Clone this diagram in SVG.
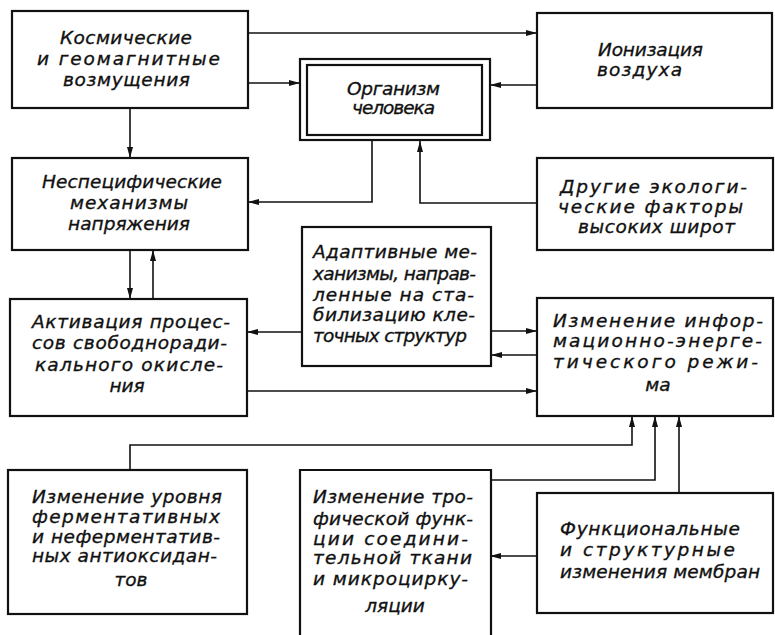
<svg xmlns="http://www.w3.org/2000/svg" width="775" height="635" viewBox="0 0 775 635">
<style>
.box{fill:#fff;stroke:#111;stroke-width:2.2}
.ln{fill:none;stroke:#111;stroke-width:1.6}
.arr{marker-end:url(#ah)}
text{font-family:"DejaVu Sans","Liberation Sans",sans-serif;font-style:oblique;font-size:18.5px;fill:#111;stroke:#111;stroke-width:0.35}
.c{text-anchor:middle}
</style>
<defs>
<marker id="ah" markerUnits="userSpaceOnUse" markerWidth="12" markerHeight="8" refX="11" refY="3.5" orient="auto">
<path d="M0,0.5 L11,3.5 L0,6.5 z" fill="#111"/>
</marker>
</defs>
<rect width="775" height="635" fill="#fff"/>
<g id="connectors">
<path class="ln arr" d="M248,33 H537"/>
<path class="ln arr" d="M248,83 H300"/>
<path class="ln arr" d="M537,85 H490"/>
<path class="ln arr" d="M130,108 V158"/>
<path class="ln arr" d="M420,136 V126 H372 V202 H248"/>
<path class="ln arr" d="M537,203 H420 V141"/>
<path class="ln arr" d="M130,250 V299"/>
<path class="ln arr" d="M153,299 V250"/>
<path class="ln arr" d="M302,332 H247"/>
<path class="ln arr" d="M491,331 H537"/>
<path class="ln arr" d="M537,355 H491"/>
<path class="ln arr" d="M247,391 H537"/>
<path class="ln arr" d="M130,470 V445 H632 V416"/>
<path class="ln arr" d="M490,480 H655 V416"/>
<path class="ln arr" d="M679,493 V416"/>
<path class="ln arr" d="M537,556 H490"/>
</g>
<g id="cosmic">
<rect class="box" x="12" y="11" width="236" height="97"/>
<text x="60" y="44" textLength="132" lengthAdjust="spacing">Космические</text>
<text x="37" y="65" textLength="183" lengthAdjust="spacing">и  геомагнитные</text>
<text x="63" y="86" textLength="127" lengthAdjust="spacing">возмущения</text>
</g>
<g id="ionization">
<rect class="box" x="537" y="13" width="235" height="95"/>
<text x="598" y="56" textLength="105" lengthAdjust="spacing">Ионизация</text>
<text x="597" y="76" textLength="85" lengthAdjust="spacing">воздуха</text>
</g>
<g id="organism">
<rect class="box" x="300" y="59" width="190" height="81" stroke-width="2.5"/>
<rect class="box" x="307" y="65" width="175" height="70" style="fill:none"/>
<text x="347" y="95" textLength="93" lengthAdjust="spacing">Организм</text>
<text x="352" y="114" textLength="83" lengthAdjust="spacing">человека</text>
</g>
<g id="nonspecific">
<rect class="box" x="12" y="158" width="236" height="92"/>
<text x="42" y="188" textLength="180" lengthAdjust="spacing">Неспецифические</text>
<text x="70" y="209" textLength="118" lengthAdjust="spacing">механизмы</text>
<text x="68" y="230" textLength="122" lengthAdjust="spacing">напряжения</text>
</g>
<g id="other-factors">
<rect class="box" x="537" y="158" width="236" height="92"/>
<text x="560" y="193" textLength="187" lengthAdjust="spacing">Другие  экологи-</text>
<text x="558" y="213" textLength="185" lengthAdjust="spacing">ческие факторы</text>
<text x="578" y="233" textLength="157" lengthAdjust="spacing">высоких широт</text>
</g>
<g id="adaptive">
<rect class="box" x="302" y="227" width="189" height="139"/>
<text x="313" y="258" textLength="164" lengthAdjust="spacing">Адаптивные ме-</text>
<text x="313" y="280" textLength="163" lengthAdjust="spacing">ханизмы, направ-</text>
<text x="313" y="301" textLength="161" lengthAdjust="spacing">ленные на ста-</text>
<text x="313" y="321" textLength="162" lengthAdjust="spacing">билизацию кле-</text>
<text x="313" y="342" textLength="154" lengthAdjust="spacing">точных структур</text>
</g>
<g id="activation">
<rect class="box" x="10" y="299" width="237" height="117"/>
<text x="32" y="328" textLength="198" lengthAdjust="spacing">Активация процес-</text>
<text x="32" y="349" textLength="195" lengthAdjust="spacing">сов свободноради-</text>
<text x="35" y="371" textLength="188" lengthAdjust="spacing">кального окисле-</text>
<text class="c" x="127" y="392">ния</text>
</g>
<g id="info-energy">
<rect class="box" x="537" y="298" width="236" height="118"/>
<text x="553" y="327" textLength="210" lengthAdjust="spacing">Изменение инфор-</text>
<text x="553" y="347" textLength="209" lengthAdjust="spacing">мационно-энерге-</text>
<text x="553" y="368" textLength="205" lengthAdjust="spacing">тического режи-</text>
<text class="c" x="658" y="391">ма</text>
</g>
<g id="antioxidants">
<rect class="box" x="8" y="470" width="239" height="144"/>
<text x="32" y="503" textLength="190" lengthAdjust="spacing">Изменение уровня</text>
<text x="32" y="523" textLength="188" lengthAdjust="spacing">ферментативных</text>
<text x="32" y="543" textLength="188" lengthAdjust="spacing">и неферментатив-</text>
<text x="32" y="562" textLength="185" lengthAdjust="spacing">ных антиоксидан-</text>
<text class="c" x="131" y="586">тов</text>
</g>
<g id="trophic">
<path class="box" d="M300,636 V470 H491 V636"/>
<text x="313" y="503" textLength="160" lengthAdjust="spacing">Изменение тро-</text>
<text x="313" y="525" textLength="160" lengthAdjust="spacing">фической функ-</text>
<text x="313" y="545" textLength="155" lengthAdjust="spacing">ции  соедини-</text>
<text x="313" y="564" textLength="159" lengthAdjust="spacing">тельной ткани</text>
<text x="313" y="585" textLength="155" lengthAdjust="spacing">и микроцирку-</text>
<text class="c" x="395" y="612">ляции</text>
</g>
<g id="membranes">
<rect class="box" x="537" y="493" width="236" height="120"/>
<text x="560" y="535" textLength="180" lengthAdjust="spacing">Функциональные</text>
<text x="560" y="556" textLength="175" lengthAdjust="spacing">и  структурные</text>
<text x="560" y="578" textLength="200" lengthAdjust="spacing">изменения мембран</text>
</g>
</svg>
